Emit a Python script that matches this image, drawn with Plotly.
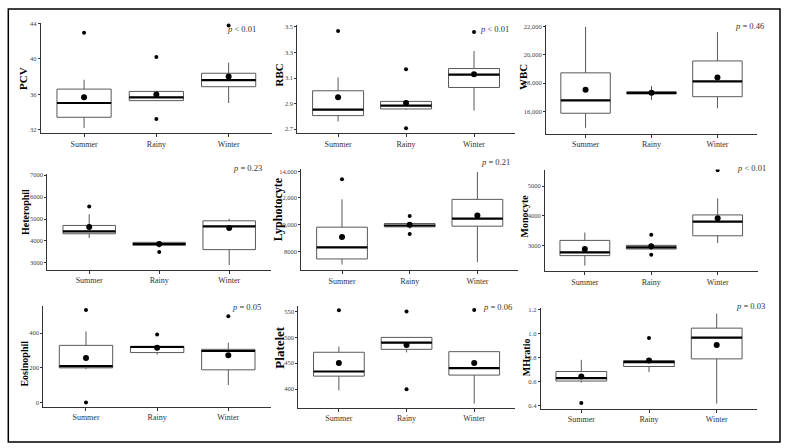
import plotly.graph_objects as go

W, H = 789, 448

seasons = ["Summer", "Rainy", "Winter"]
variables = ["PCV", "RBC", "WBC", "Heterophil", "Lyphotocyte", "Monocyte",
             "Eosinophil", "Platelet", "MHratio"]

q1 = [[33.42, 35.30, 36.87], [2.806, 2.858, 3.026], [15859, 17230, 17035],
      [4328, 3800, 3604], [7429, 9834, 9884], [2667, 2889, 3333],
      [200, 288, 188.6], [425, 476.9, 427], [0.603, 0.725, 0.789]]
median = [[35.03, 35.67, 37.61], [2.853, 2.884, 3.127], [16776, 17300, 18118],
          [4434, 3860, 4660], [8297, 9934, 10454], [2778, 2944, 3811],
          [209.5, 320, 297], [434, 489.7, 440.4], [0.628, 0.761, 0.967]]
q3 = [[36.60, 36.34, 38.39], [3.000, 2.917, 3.174], [18730, 17380, 19576],
      [4706, 3936, 4917], [9810, 10082, 11892], [3178, 3011, 4033],
      [329.5, 324, 306.7], [471.2, 500, 472.4], [0.683, 0.775, 1.047]]
lower = [[32.22, 35.25, 35.03], [2.760, 2.850, 2.845], [14824, 16800, 16212],
         [4132, 3700, 2894], [7008, 9700, 7181], [2333, 2850, 3089],
         [192, 276, 101], [397.4, 471, 371.8], [0.590, 0.678, 0.414]]
upper = [[37.65, 36.40, 39.59], [3.104, 2.925, 3.311], [22000, 17800, 21624],
         [5219, 3981, 5008], [11892, 10150, 13950], [3444, 3050, 4589],
         [409.5, 330, 345], [482, 500, 472.4], [0.781, 0.780, 1.169]]
means = [[35.67, 36.00, 38.02], [2.949, 2.904, 3.130], [17529, 17318, 18400],
         [4630, 3860, 4585], [9066, 9983, 10677], [2889, 2978, 3922],
         [257, 316, 272], [450.6, 485.3, 450.6], [0.642, 0.775, 0.906]]
outliers = [[[42.96], [40.23, 33.23], [43.78]],
            [[3.467], [3.168, 2.708], [3.459]],
            [[], [], []],
            [[5566], [3498], []],
            [[13405], [10653, 9289], []],
            [[], [3367, 2700], [5533]],
            [[533, 0], [392], [497]],
            [[552.6], [550, 399.4], [553.2]],
            [[0.419], [0.964], []]]
p_labels = ["<i>p</i> &lt; 0.01", "<i>p</i> &lt; 0.01", "<i>p</i> = 0.46",
            "<i>p</i> = 0.23", "<i>p</i> = 0.21", "<i>p</i> &lt; 0.01",
            "<i>p</i> = 0.05", "<i>p</i> = 0.06", "<i>p</i> = 0.03"]
tick_vals = [[32, 36, 40, 44], [2.7, 2.9, 3.1, 3.3, 3.5], [16000, 18000, 20000, 22000],
             [3000, 4000, 5000, 6000, 7000], [8000, 10000, 12000, 14000],
             [3000, 4000, 5000], [0, 200, 400], [400, 450, 500, 550],
             [0.4, 0.6, 0.8, 1.0, 1.2]]
tick_text = [["32", "36", "40", "44"], ["2.7", "2.9", "3.1", "3.3", "3.5"],
             ["16,000", "18,000", "20,000", "22,000"],
             ["3000", "4000", "5000", "6000", "7000"],
             ["8000", "10,000", "12,000", "14,000"],
             ["3000", "4000", "5000"], ["0", "200", "400"],
             ["400", "450", "500", "550"], ["0.4", "0.6", "0.8", "1.0", "1.2"]]

# layout (pixels): x0, x1, ytop, ybottom
panel_px = [(40.7, 272, 20, 131), (297.3, 514.8, 21.7, 131), (546, 757, 21.7, 131.7),
            (47.2, 271.2, 171.7, 268.3), (301.4, 518, 166.7, 269), (545, 757.5, 167.7, 270),
            (43.3, 271, 304.7, 406.3), (298.3, 514.8, 305, 407.3), (540.7, 757.3, 306.7, 408.3)]
y_ranges = [[31.63, 44.08], [2.669, 3.518], [14397, 22162],
            [2698, 7072], [6586, 14198], [2144, 5556],
            [-22.9, 558], [364.1, 560.9], [0.372, 1.219]]
title_px = [(23.5, 76, 11), (279, 73, 11), (523.5, 75, 11),
            (25.5, 211, 10), (277.7, 208, 12), (525, 215, 10),
            (25, 363, 10), (280, 347, 13), (526.7, 357, 10)]
p_px = [(241, 26), (494, 25.7), (749.5, 22.7), (247, 165.7), (495.5, 160),
        (751, 166), (246.5, 306), (498, 306), (750, 305)]

BOX_W = 0.75
FONT = "Liberation Serif"

fig = go.Figure()
layout = {}
annotations = []

for k, var in enumerate(variables):
    n = k + 1
    xs = "x" if n == 1 else f"x{n}"
    ys = "y" if n == 1 else f"y{n}"
    xpos = list(range(len(seasons)))

    fig.add_trace(go.Box(
        x=xpos, q1=q1[k], median=median[k], q3=q3[k],
        lowerfence=lower[k], upperfence=upper[k],
        width=BOX_W, whiskerwidth=0, boxpoints=False,
        line=dict(color="#595959", width=1), fillcolor="white",
        xaxis=xs, yaxis=ys, showlegend=False, hoverinfo="skip"))

    mx, my = [], []
    for i, m in enumerate(median[k]):
        mx += [i - BOX_W / 2, i + BOX_W / 2, None]
        my += [m, m, None]
    fig.add_trace(go.Scatter(x=mx, y=my, mode="lines",
                             line=dict(color="black", width=2.2),
                             xaxis=xs, yaxis=ys, showlegend=False, hoverinfo="skip"))

    ox, oy = [], []
    for i, vals in enumerate(outliers[k]):
        for v in vals:
            ox.append(i)
            oy.append(v)
    fig.add_trace(go.Scatter(x=ox, y=oy, mode="markers",
                             marker=dict(color="black", size=4),
                             xaxis=xs, yaxis=ys, showlegend=False, hoverinfo="skip"))

    fig.add_trace(go.Scatter(x=xpos, y=means[k], mode="markers",
                             marker=dict(color="black", size=6),
                             xaxis=xs, yaxis=ys, showlegend=False, hoverinfo="skip"))

    x0, x1, yt, yb = panel_px[k]
    axkey = "xaxis" if n == 1 else f"xaxis{n}"
    aykey = "yaxis" if n == 1 else f"yaxis{n}"
    layout[axkey] = dict(domain=[x0 / W, x1 / W], anchor=ys, range=[-0.6, 2.6],
                         tickvals=xpos, ticktext=seasons, showline=True,
                         linecolor="#333333", linewidth=1, ticks="outside",
                         ticklen=3, tickcolor="#333333", showgrid=False,
                         zeroline=False, fixedrange=True,
                         tickfont=dict(family=FONT, size=8, color="#333333"))
    layout[aykey] = dict(domain=[1 - yb / H, 1 - yt / H], anchor=xs, range=y_ranges[k],
                         tickvals=tick_vals[k], ticktext=tick_text[k], showline=True,
                         linecolor="#333333", linewidth=1, ticks="outside",
                         ticklen=2, tickcolor="#333333", showgrid=False,
                         zeroline=False, fixedrange=True,
                         tickfont=dict(family=FONT, size=6.5, color="#444444"))

    tx, ty, tsize = title_px[k]
    annotations.append(dict(text=f"<b>{var}</b>", x=tx / W, y=1 - ty / H,
                            xref="paper", yref="paper", textangle=-90,
                            showarrow=False, xanchor="center", yanchor="middle",
                            font=dict(family=FONT, size=tsize, color="black")))
    px_, py_ = p_px[k]
    annotations.append(dict(text=p_labels[k], x=px_ / W, y=1 - py_ / H,
                            xref="paper", yref="paper", showarrow=False,
                            xanchor="center", yanchor="middle",
                            font=dict(family=FONT, size=8.5, color="#333333")))

fig.update_layout(
    width=W, height=H, margin=dict(l=0, r=0, t=0, b=0),
    paper_bgcolor="white", plot_bgcolor="white",
    annotations=annotations,
    shapes=[dict(type="rect", xref="paper", yref="paper",
                 x0=8.3 / W, x1=780 / W, y0=1 - 442 / H, y1=1 - 6 / H,
                 line=dict(color="black", width=1.5))],
    **layout)

fig.write_html("out.html", config={"displayModeBar": False},
               post_script="document.body.style.margin='0px';document.body.style.overflow='hidden';")
